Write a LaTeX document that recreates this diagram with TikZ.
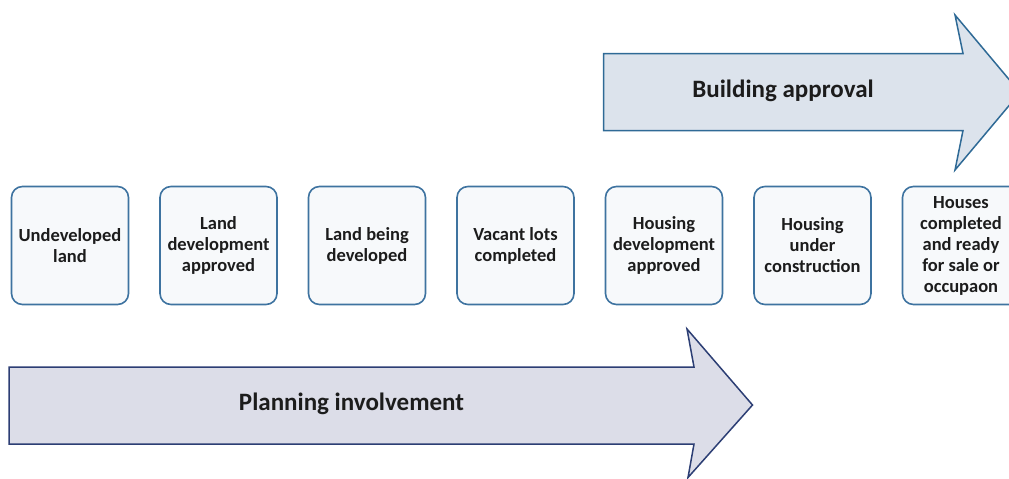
\documentclass[tikz,border=0pt]{standalone}
\usepackage{fontspec}
\setmainfont{Carlito}
\usepackage{xcolor}
\usepackage{tikz}
\definecolor{boxline}{HTML}{3E73A0}
\definecolor{boxfill}{HTML}{F7F9FB}
\definecolor{topline}{HTML}{2F6A96}
\definecolor{topfill}{HTML}{DCE3EC}
\definecolor{botline}{HTML}{2C3E74}
\definecolor{botfill}{HTML}{DCDDE8}
\definecolor{ink}{HTML}{1C1C1C}

\begin{document}
\begin{tikzpicture}[x = 1pt, y = -1pt,
  stage/.style = {draw = boxline, fill = boxfill, line width = 1.6pt, rounded corners = 11pt,
    minimum width = 117pt, minimum height = 118pt, align = center, text = ink,
    font = \fontsize{18.5}{21}\selectfont\bfseries},
  bar/.style = {line width = 1.5pt, line join = miter},
  barlabel/.style = {anchor = base, text = ink, font = \fontsize{25}{30}\selectfont\bfseries}]
\useasboundingbox (0,0) rectangle (1009,479);
\clip (0,0) rectangle (1009,479);
\draw[bar, draw = topline, fill = topfill] (603.5,53.5) -- (963,53.5) -- (955,15) -- (1020,92.5) -- (955,170) -- (963,130.5) -- (603.5,130.5) -- cycle;
\node[barlabel] (build) at (783,97) {Building approval};
\node[stage] (s1) at (70,245.5) {Undeveloped\\land};
\node[stage] (s2) at (218.5,245.5) {Land\\development\\approved};
\node[stage] (s3) at (367,245.5) {Land being\\developed};
\node[stage] (s4) at (515.5,245.5) {Vacant lots\\completed};
\node[stage] (s5) at (664,245.5) {Housing\\development\\approved};
\node[stage] (s6) at (812.5,245.5) {Housing\\under\\construction};
\node[stage] (s7) at (961,245.5) {Houses\\completed\\and ready\\for sale or\\occupaon};
\draw[bar, draw = botline, fill = botfill] (9,367) -- (694,367) -- (687,329) -- (752.5,405) -- (688,477.5) -- (694,444) -- (9,444) -- cycle;
\node[barlabel] (plan) at (351.5,410) {Planning involvement};
\end{tikzpicture}
\end{document}
